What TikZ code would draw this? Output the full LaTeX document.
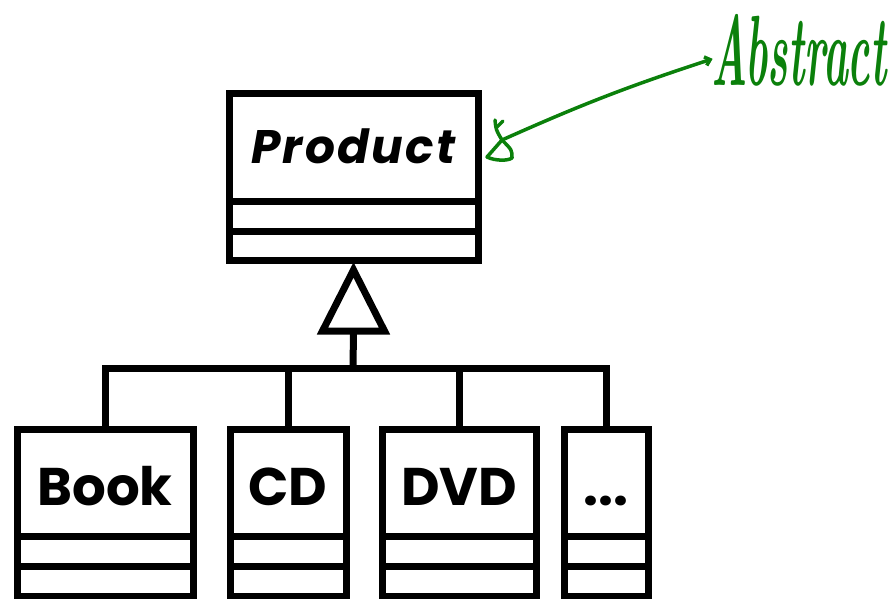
\documentclass[tikz,border=0pt]{standalone}
\usepackage{fontspec}
\usepackage{tikz}
\usetikzlibrary{arrows.meta,calc}
\newfontfamily\umlfont{Poppins}
\definecolor{penGreen}{HTML}{0B800B}

\begin{document}
\begin{tikzpicture}[x=1pt,y=-1pt,line width=7pt,
  every node/.style={inner sep=0pt,outer sep=0pt},
  title/.style={draw,minimum width=#1,minimum height=107pt,
    font=\umlfont\bfseries\fontsize{53}{53}\selectfont,text height=45pt,text depth=0pt},
  slot/.style={draw,minimum width=#1,minimum height=30pt,anchor=north},
  pen/.style={draw=penGreen,line width=3.5pt,line cap=round,line join=round}]
\useasboundingbox (0,0) rectangle (896,599);
% abstract super class
\node[title=249pt,font=\umlfont\bfseries\itshape\fontsize{47}{47}\selectfont\addfontfeature{LetterSpace=5},text height=31pt] (product) at (353.5,147.5) {Product};
\node[slot=249pt] (productA) at (product.south) {};
\node[slot=249pt,minimum height=29pt] (productB) at (productA.south) {};
% sub classes
\node[title=176pt] (book) at (105,482.5) {Book};
\node[slot=176pt] (bookA) at (book.south) {};
\node[slot=176pt] (bookB) at (bookA.south) {};
\node[title=116pt] (cd) at (288,482.5) {CD};
\node[slot=116pt] (cdA) at (cd.south) {};
\node[slot=116pt] (cdB) at (cdA.south) {};
\node[title=154pt] (dvd) at (459,482.5) {DVD};
\node[slot=154pt] (dvdA) at (dvd.south) {};
\node[slot=154pt] (dvdB) at (dvdA.south) {};
\node[title=84pt] (dots) at (606,482.5) {...};
\node[slot=84pt] (dotsA) at (dots.south) {};
\node[slot=84pt] (dotsB) at (dotsA.south) {};
% generalisation
\coordinate (hub) at (353,368);
\coordinate (apex) at ($(productB.south)+(0,10)$);
\draw[line join=miter] (apex) -- ++(31,61) -- ++(-62,0) -- cycle;
\draw (hub) -- ($(apex)+(0,61)$);
\draw (book.north) |- (dots.north |- hub) -- (dots.north);
\draw (cd.north) -- (cd.north |- hub);
\draw (dvd.north) -- (dvd.north |- hub);
% hand written note
\node[font=\bfseries\itshape\fontsize{100}{100}\selectfont,text=penGreen,xscale=0.42,anchor=base] (note) at (799,86) {Abstract};
\coordinate (tail) at (502,140);
\draw[pen] (495,120) .. controls (496,130) .. (tail) -- (487,157)
  .. controls (495,161) and (508,161) .. (512,158) .. controls (512,150) .. (tail);
\draw[pen] (497,127) -- (503,121);
\draw[pen,-{Straight Barb[length=5pt,width=9pt]}] (tail) to[bend left=3] ($(note.west)+(1,8)$);
\end{tikzpicture}
\end{document}
